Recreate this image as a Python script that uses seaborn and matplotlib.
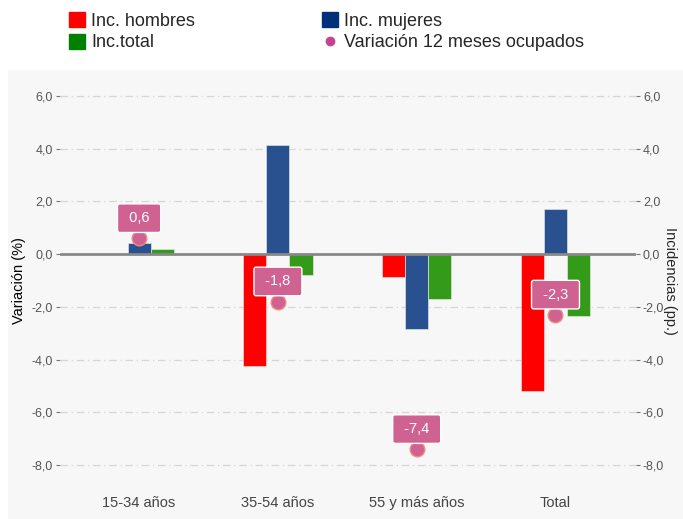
import numpy as np
import pandas as pd
import matplotlib
matplotlib.use("Agg")
import matplotlib.pyplot as plt
from matplotlib.patches import Rectangle, Patch
from matplotlib.lines import Line2D
from matplotlib.ticker import FuncFormatter
import seaborn as sns

# Datos
grupos = ["15-34 años", "35-54 años", "55 y más años", "Total"]
inc_hombres = [0.0, -4.25, -0.87, -5.2]
inc_mujeres = [0.44, 4.14, -2.85, 1.71]
inc_total = [0.2, -0.8, -1.71, -2.35]
variacion = [0.6, -1.8, -7.4, -2.3]
series = ["Inc. hombres", "Inc. mujeres", "Inc.total"]
y_ticks = [-8, -6, -4, -2, 0, 2, 4, 6]

colores_barras = ["#ff0000", "#29508f", "#349a1a"]
colores_leyenda = ["#ff0000", "#00307a", "#008000"]
color_punto = "#cf6291"

df = pd.DataFrame({
    "grupo": grupos * 3,
    "serie": np.repeat(series, len(grupos)),
    "valor": inc_hombres + inc_mujeres + inc_total,
})

sns.set_style("white")
plt.rcParams["font.family"] = ["Liberation Sans", "DejaVu Sans"]

fig = plt.figure(figsize=(6.83, 5.19), dpi=100)
# fondo gris del panel
fondo = Rectangle((8 / 683, 0), 1, (519 - 70) / 519, transform=fig.transFigure,
                  facecolor="#f7f7f7", edgecolor="none", zorder=-10)
fig.patches.append(fondo)

ax = fig.add_axes([60 / 683, 0.0684, (636 - 60) / 683, 0.8507 - 0.0684])
ax.set_facecolor("none")

sns.barplot(data=df, x="grupo", y="valor", hue="serie", palette=colores_barras,
            saturation=1, width=0.5, edgecolor="#eeeeee", linewidth=0.4,
            legend=False, ax=ax, zorder=3)

x_pos = np.arange(len(grupos))
sns.scatterplot(x=x_pos, y=variacion, color=color_punto, edgecolor="#f08a80",
                linewidth=1, s=110, legend=False, ax=ax, zorder=5)
for xi, v in zip(x_pos, variacion):
    ax.annotate(" " + f"{v:.1f}".replace(".", ",") + " ", (xi, v), xytext=(0, 14.5),
                textcoords="offset points", ha="center", va="center",
                color="white", fontsize=10.5, zorder=6,
                bbox=dict(boxstyle="round,pad=0.5,rounding_size=0.15", fc=color_punto,
                          ec="white", lw=1))

ax.set_xlim(-0.57, 3.58)
ax.set_ylim(-8.7, 6.7)
ax.set_yticks(y_ticks)
fmt = FuncFormatter(lambda y, _: f"{y:.1f}".replace(".", ","))
ax.yaxis.set_major_formatter(fmt)
for t in y_ticks:
    if t != 0:
        ax.axhline(t, color="#d6d6d6", lw=0.9, linestyle=(0, (6, 3, 1, 3)), zorder=1)
ax.axhline(0, color="#888888", lw=2, zorder=4)

for s in ax.spines.values():
    s.set_visible(False)
ax.tick_params(axis="y", length=3, width=0.8, color="#777777", labelcolor="#555555",
               labelsize=9, pad=2)
ax.tick_params(axis="x", length=3, width=0.8, color="#777777", labelcolor="#444444",
               labelsize=10.5, pad=6)
ax.set_xlabel("")
ax.set_ylabel("Variación (%)", fontsize=10.5, color="black", labelpad=4)

ax2 = ax.twinx()
ax2.set_ylim(ax.get_ylim())
ax2.set_yticks(y_ticks)
ax2.yaxis.set_major_formatter(fmt)
for s in ax2.spines.values():
    s.set_visible(False)
ax2.tick_params(axis="y", length=3, width=0.8, color="#777777", labelcolor="#555555",
                labelsize=9, pad=2)
ax2.set_ylabel("Incidencias (pp.)", fontsize=10.5, rotation=-90, labelpad=9)

# leyenda
handles = [
    Patch(color=colores_leyenda[0]),
    Patch(color=colores_leyenda[2]),
    Patch(color=colores_leyenda[1]),
    Line2D([], [], marker="o", linestyle="none", color="#c5448f", markersize=6),
]
etiquetas = [series[0], series[2], series[1], "Variación 12 meses ocupados"]
fig.legend(handles, etiquetas, loc="upper left", bbox_to_anchor=(0.09, 0.99), ncol=2,
           frameon=False, fontsize=13, handlelength=0.9, handleheight=0.9,
           handletextpad=0.35, columnspacing=7.0, labelspacing=0.2, borderaxespad=0)

fig.savefig("out.png", dpi=100)
